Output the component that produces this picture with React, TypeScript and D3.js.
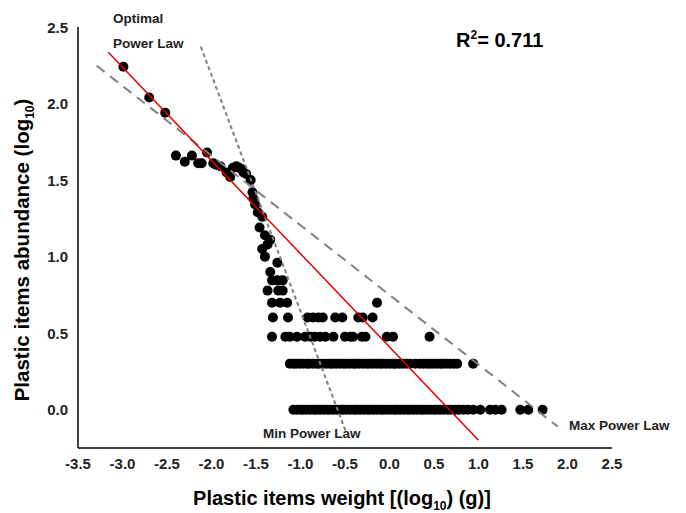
import React from "react";
import * as d3 from "d3";

// ---------- data ----------
const xTicks = [-3.5, -3.0, -2.5, -2.0, -1.5, -1.0, -0.5, 0.0, 0.5, 1.0, 1.5, 2.0, 2.5];
const yTicks = [0.0, 0.5, 1.0, 1.5, 2.0, 2.5];

// scattered points (log10 weight, log10 abundance)
const upperPoints: [number, number][] = [
  [-2.99, 2.24], [-2.70, 2.04], [-2.52, 1.94],
  [-2.40, 1.66], [-2.30, 1.62], [-2.22, 1.66], [-2.15, 1.61], [-2.11, 1.61],
  [-2.05, 1.68], [-1.98, 1.61], [-1.95, 1.60], [-1.90, 1.59], [-1.83, 1.55],
  [-1.79, 1.52], [-1.76, 1.58], [-1.72, 1.59], [-1.69, 1.58], [-1.66, 1.57],
  [-1.64, 1.55], [-1.61, 1.54], [-1.56, 1.50],
  [-1.54, 1.42], [-1.53, 1.38], [-1.51, 1.34], [-1.48, 1.29], [-1.43, 1.26],
  [-1.46, 1.19], [-1.40, 1.14], [-1.34, 1.11], [-1.37, 1.08], [-1.43, 1.05],
  [-1.40, 1.00], [-1.26, 0.96], [-1.34, 0.90],
];

// discrete abundance rows
const row845 = [-1.32, -1.26, -1.20];
const row778 = [-1.37, -1.25, -1.20];
const row699 = [-1.32, -1.23, -1.15, -0.14];
const row602 = [-1.31, -1.14, -0.92, -0.86, -0.80, -0.75, -0.61, -0.53, -0.35, -0.30, -0.19];
const row477 = [-1.32, -1.17, -1.12, -1.04, -0.95, -0.89, -0.84, -0.78, -0.72, -0.63,
  -0.50, -0.44, -0.41, -0.31, -0.27, -0.03, 0.04, 0.45];
const row301 = [-1.12, -1.08, -1.05, -1.01, -0.97, -0.93, -0.90, -0.86, -0.82, -0.79,
  -0.75, -0.71, -0.67, -0.64, -0.60, -0.56, -0.52, -0.49, -0.45, -0.41, -0.38, -0.34,
  -0.30, -0.26, -0.23, -0.19, -0.15, -0.11, -0.08, -0.04, 0.00, 0.04, 0.07, 0.11,
  0.15, 0.19, 0.23, 0.29, 0.34, 0.38, 0.42, 0.455, 0.49, 0.53, 0.57, 0.60, 0.64,
  0.68, 0.72, 0.76, 0.94];
const row000 = [-1.08, -1.04, -1.00, -0.97, -0.93, -0.89, -0.85, -0.82, -0.78, -0.74,
  -0.70, -0.67, -0.63, -0.59, -0.55, -0.52, -0.48, -0.44, -0.40, -0.37, -0.33, -0.29,
  -0.25, -0.22, -0.18, -0.14, -0.10, -0.07, -0.03, 0.01, 0.05, 0.08, 0.12, 0.16, 0.20,
  0.23, 0.27, 0.31, 0.35, 0.38, 0.42, 0.46, 0.50, 0.53, 0.57, 0.61, 0.65, 0.69, 0.74,
  0.78, 0.83, 0.88, 0.94, 1.02, 1.13, 1.19, 1.26, 1.47, 1.56, 1.72];

const rowLevels = [0.845, 0.778, 0.699, 0.602, 0.477, 0.301, 0.0];
const rowValues = [row845, row778, row699, row602, row477, row301, row000];

// fitted power laws: intercept, slope, x-range
const optimalLaw = { a: 0.41, b: -0.609, x0: -3.16, x1: 1.0 };
const maxLaw = { a: 0.75, b: -0.455, x0: -3.29, x1: 1.89 };
const minLaw = { a: -0.90, b: -1.543, x0: -2.12, x1: -0.49 };

const FONT = "'Liberation Sans', Arial, Helvetica, sans-serif";

export default function App() {
  const W = 686, H = 513;
  const x = d3.scaleLinear().domain([-3.5, 2.5]).range([78, 612]);
  const y = d3.scaleLinear().domain([-0.25, 2.5]).range([448, 27]);

  const points: [number, number][] = [...upperPoints];
  rowValues.forEach((row, i) => row.forEach((v) => points.push([v, rowLevels[i]])));

  const lawPath = (l: { a: number; b: number; x0: number; x1: number }) =>
    d3.line<number>().x((v) => x(v)).y((v) => y(l.a + l.b * v))([l.x0, l.x1]) || "";

  return (
    <svg width={W} height={H} style={{ position: "absolute", left: 0, top: 0, background: "#fff" }}
      fontFamily={FONT}>
      <rect x={0} y={0} width={W} height={H} fill="#fff" />
      {/* axes */}
      <line x1={x(-3.5)} x2={x(-3.5)} y1={y(2.5)} y2={y(-0.25)} stroke="#000" strokeWidth={1.5} />
      <line x1={x(-3.5)} x2={x(2.5)} y1={y(-0.25)} y2={y(-0.25)} stroke="#000" strokeWidth={1.5} />
      {xTicks.map((t) => (
        <text key={"x" + t} x={x(t)} y={469} textAnchor="middle" fontSize={15} fontWeight="bold" fill="#222">
          {t.toFixed(1)}
        </text>
      ))}
      {yTicks.map((t) => (
        <text key={"y" + t} x={68} y={y(t) + 5.5} textAnchor="end" fontSize={15} fontWeight="bold" fill="#222">
          {t.toFixed(1)}
        </text>
      ))}
      {/* points */}
      {points.map((p, i) => (
        <circle key={i} cx={x(p[0])} cy={y(p[1])} r={5} fill="#000" />
      ))}
      {/* lines */}
      <path d={lawPath(maxLaw)} stroke="#808080" strokeWidth={2} strokeDasharray="10,7" fill="none" />
      <path d={lawPath(minLaw)} stroke="#808080" strokeWidth={2} strokeDasharray="4,3" fill="none" />
      <path d={lawPath(optimalLaw)} stroke="#e00000" strokeWidth={1.5} fill="none" />
      {/* annotations */}
      <text x={113} y={23} fontSize={13.5} fontWeight="bold" fill="#222">Optimal</text>
      <text x={113} y={48} fontSize={13.5} fontWeight="bold" fill="#222">Power Law</text>
      <text x={263} y={438} fontSize={13.5} fontWeight="bold" fill="#222">Min Power Law</text>
      <text x={569} y={430} fontSize={13.5} fontWeight="bold" fill="#222">Max Power Law</text>
      <text x={456} y={47} fontSize={20} fontWeight="bold" fill="#000">
        R<tspan dy={-8} fontSize={12}>2</tspan><tspan dy={8}>= 0.711</tspan>
      </text>
      {/* axis titles */}
      <text x={342} y={505} textAnchor="middle" fontSize={20} fontWeight="bold" fill="#000">
        Plastic items weight [(log<tspan dy={5} fontSize={12}>10</tspan><tspan dy={-5}>) (g)]</tspan>
      </text>
      <text transform="translate(29,250) rotate(-90)" textAnchor="middle" fontSize={20.5} fontWeight="bold" fill="#000">
        Plastic items abundance (log<tspan dy={5} fontSize={12}>10</tspan><tspan dy={-5}>)</tspan>
      </text>
    </svg>
  );
}
